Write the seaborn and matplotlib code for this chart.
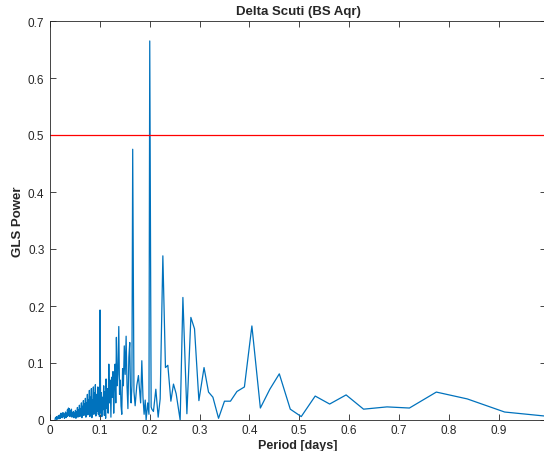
import numpy as np
import pandas as pd
import matplotlib
matplotlib.use("Agg")
import matplotlib.pyplot as plt
import seaborn as sns

# ---- data ----
title = "Delta Scuti (BS Aqr)"
xlabel = "Period [days]"
ylabel = "GLS Power"
threshold = 0.5

period_dense = [0.010, 0.011, 0.012, 0.013, 0.014, 0.015, 0.016, 0.017, 0.018, 0.019,
                0.020, 0.021, 0.022, 0.023, 0.024, 0.025, 0.026, 0.027, 0.028, 0.029,
                0.030, 0.031, 0.032, 0.033, 0.034, 0.035, 0.036, 0.037, 0.038, 0.039,
                0.040, 0.041, 0.042, 0.043, 0.044, 0.045, 0.046, 0.047, 0.048, 0.049,
                0.050, 0.051, 0.052, 0.053, 0.054, 0.055, 0.056, 0.057, 0.058, 0.059,
                0.060, 0.061, 0.062, 0.063, 0.064, 0.065, 0.066, 0.067, 0.068, 0.069,
                0.070, 0.071, 0.072, 0.073, 0.074, 0.075, 0.076, 0.077, 0.078, 0.079,
                0.080, 0.081, 0.082, 0.083, 0.084, 0.085, 0.086, 0.087, 0.088, 0.089,
                0.090, 0.091, 0.092, 0.093, 0.094]
power_dense = [0.001, 0.004, 0.002, 0.006, 0.001, 0.005, 0.003, 0.008, 0.002, 0.006,
               0.009, 0.003, 0.012, 0.005, 0.010, 0.004, 0.013, 0.006, 0.011, 0.003,
               0.008, 0.014, 0.004, 0.012, 0.006, 0.018, 0.007, 0.021, 0.009, 0.020,
               0.006, 0.016, 0.011, 0.019, 0.005, 0.013, 0.008, 0.015, 0.004, 0.012,
               0.007, 0.017, 0.003, 0.014, 0.009, 0.022, 0.005, 0.018, 0.010, 0.026,
               0.006, 0.020, 0.012, 0.030, 0.004, 0.024, 0.015, 0.034, 0.008, 0.028,
               0.012, 0.038, 0.005, 0.030, 0.018, 0.045, 0.009, 0.035, 0.020, 0.052,
               0.006, 0.040, 0.015, 0.055, 0.004, 0.035, 0.022, 0.058, 0.010, 0.048,
               0.018, 0.062, 0.007, 0.045, 0.025]

period_mid = [0.0950, 0.0960, 0.0970, 0.0980, 0.0992, 0.1004, 0.1016, 0.1028, 0.1040, 0.1052,
              0.1064, 0.1077, 0.1090, 0.1103, 0.1116, 0.1125, 0.1140, 0.1153, 0.1166, 0.1180,
              0.1194, 0.1208, 0.1222, 0.1236, 0.1250, 0.1264, 0.1278, 0.1292, 0.1306, 0.1320,
              0.1332, 0.1346, 0.1362, 0.1380, 0.1395, 0.1410, 0.1425, 0.1440, 0.1456, 0.1472,
              0.1490, 0.1508, 0.1527, 0.1545, 0.1563, 0.1582, 0.1600, 0.1615, 0.1627, 0.1643,
              0.1659, 0.1684, 0.1708, 0.1740, 0.1774, 0.1795, 0.1818, 0.1842, 0.1865, 0.1888,
              0.1910, 0.1928, 0.1960, 0.1985, 0.2001, 0.2029]
power_mid = [0.015, 0.058, 0.010, 0.035, 0.006, 0.193, 0.012, 0.048, 0.006, 0.040,
             0.018, 0.060, 0.008, 0.050, 0.003, 0.072, 0.020, 0.055, 0.012, 0.098,
             0.030, 0.070, 0.005, 0.075, 0.040, 0.085, 0.012, 0.060, 0.098, 0.030,
             0.145, 0.060, 0.080, 0.164, 0.045, 0.070, 0.025, 0.010, 0.090, 0.060,
             0.130, 0.080, 0.147, 0.060, 0.020, 0.110, 0.136, 0.045, 0.030, 0.060,
             0.475, 0.050, 0.025, 0.060, 0.078, 0.055, 0.030, 0.104, 0.040, 0.010,
             0.035, 0.000, 0.030, 0.010, 0.665, 0.023]

period_long = [0.2043, 0.2075, 0.2123, 0.2170, 0.2210, 0.2264, 0.2316, 0.2364, 0.2425, 0.2477,
               0.2531, 0.2611, 0.2666, 0.2746, 0.2826, 0.2899, 0.2987, 0.3090, 0.3180, 0.3268,
               0.3381, 0.3500, 0.3620, 0.3750, 0.3900, 0.4050, 0.4220, 0.4410, 0.4600, 0.4820,
               0.5040, 0.5320, 0.5610, 0.5940, 0.6290, 0.6760, 0.7210, 0.7750, 0.8370, 0.9120,
               0.9920]
power_long = [0.019, 0.015, 0.054, 0.005, 0.037, 0.288, 0.092, 0.096, 0.033, 0.063,
              0.046, 0.000, 0.215, 0.011, 0.180, 0.160, 0.034, 0.092, 0.049, 0.040,
              0.003, 0.033, 0.033, 0.050, 0.058, 0.165, 0.021, 0.054, 0.081, 0.019,
              0.006, 0.042, 0.028, 0.044, 0.019, 0.023, 0.021, 0.049, 0.037, 0.014,
              0.007]

df = pd.DataFrame({
    "period": period_dense + period_mid + period_long,
    "power": power_dense + power_mid + power_long,
})

sns.set_theme(style="ticks")
plt.rcParams["font.family"] = ["Liberation Sans", "DejaVu Sans"]

fig = plt.figure(figsize=(5.44, 4.52), dpi=100)
ax = fig.add_axes([50 / 544, 31 / 452, 496 / 544, 399 / 452])

sns.lineplot(data=df, x="period", y="power", ax=ax, color="#0072BD",
             linewidth=0.9, sort=False, estimator=None)
ax.axhline(threshold, color="#FF0000", linewidth=0.9)

ax.set_xlim(0, 0.995)
ax.set_ylim(0, 0.7)
xt = [0, 0.1, 0.2, 0.3, 0.4, 0.5, 0.6, 0.7, 0.8, 0.9]
yt = [0, 0.1, 0.2, 0.3, 0.4, 0.5, 0.6, 0.7]
ax.set_xticks(xt)
ax.set_xticklabels(["0" if v == 0 else f"{v:g}" for v in xt])
ax.set_yticks(yt)
ax.set_yticklabels(["0" if v == 0 else f"{v:g}" for v in yt])
ax.tick_params(direction="in", top=True, right=True, length=4, width=0.6,
               colors="#262626", labelsize=8.5)
ax.tick_params(axis="x", pad=3)
ax.tick_params(axis="y", pad=4)
for s in ax.spines.values():
    s.set_color("#262626")
    s.set_linewidth(0.6)

ax.set_xlabel(xlabel, fontsize=9, fontweight="bold")
ax.xaxis.set_label_coords(0.5, -0.048)
ax.set_ylabel(ylabel, fontsize=9.5, fontweight="bold", labelpad=3)
ax.set_title(title, fontsize=9.5, fontweight="bold", pad=5)

fig.savefig("out.png", dpi=100)
